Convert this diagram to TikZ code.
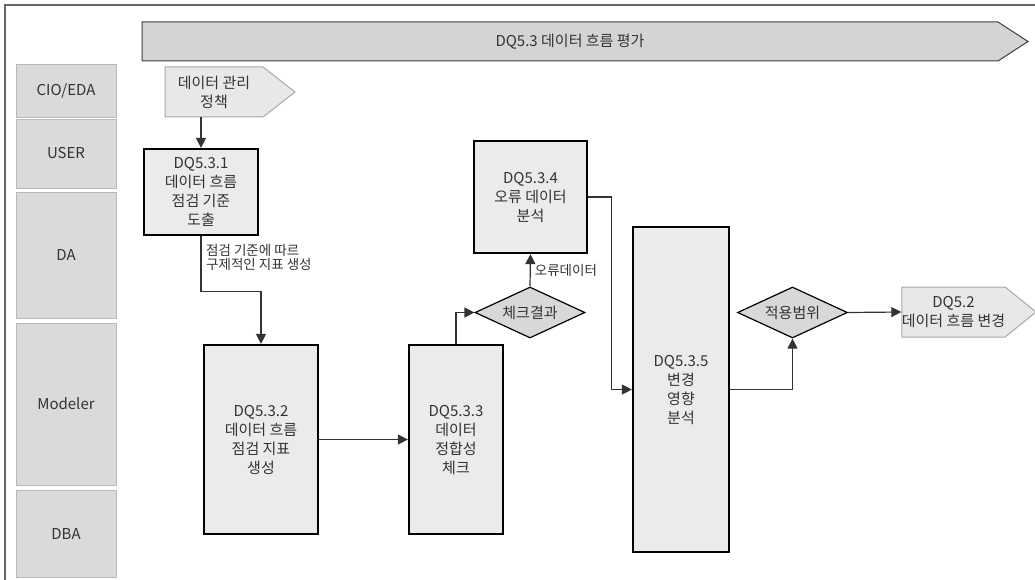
\documentclass[tikz,border=0pt]{standalone}
\usepackage{fontspec}
\setmainfont{Noto Sans CJK KR}
\usetikzlibrary{arrows.meta, positioning, shapes.geometric, shapes.symbols}
\definecolor{lanegray}{HTML}{D9DADC}
\definecolor{bargray}{HTML}{D3D4D6}
\definecolor{boxgray}{HTML}{EAEBEB}
\definecolor{diagray}{HTML}{D7D8DA}
\definecolor{pentgray}{HTML}{E7E8E9}
\definecolor{edgegray}{HTML}{A7A8AA}
\definecolor{inkgray}{HTML}{333333}

\begin{document}
\begin{tikzpicture}[
      x=1pt, y=-1pt,
      font=\fontsize{15}{19}\selectfont, text=inkgray,
      lane/.style={rectangle, fill=lanegray, draw=lanegray!85!black, line width=0.6pt,
                   minimum width=100pt, inner sep=0pt},
      task/.style={rectangle, fill=boxgray, draw=black, line width=2.2pt,
                   align=center, inner sep=0pt},
      dec/.style={diamond, aspect=2.1, fill=diagray, draw=black, line width=1.2pt,
                  inner sep=0pt, minimum width=110pt, minimum height=51pt},
      flag/.style={signal, signal to=east, fill=pentgray, draw=edgegray, line width=1pt,
                   align=center, inner sep=0pt},
      lbl/.style={font=\fontsize{13.5}{14}\selectfont, align=left, inner sep=1pt},
      ar/.style={-{Triangle[length=10pt,width=10pt]}, inkgray, line width=1.2pt},
    ]
    \useasboundingbox (0,0) rectangle (1035,580);

    % ---------------- frame
    \draw[black!60, line width=1.5pt] (5,580) -- (5,5) -- (1035,5);

    % ---------------- banner
    \node[signal, signal to=east, signal pointer angle=66, fill=bargray, draw=black!75,
          line width=1pt, minimum width=886pt, minimum height=39pt, inner sep=0pt]
          (bar) at (570,41.5) {DQ5.3 데이터 흐름 평가};

    % ---------------- lanes
    \node[lane, minimum height=53pt]  (cio)  at (66,90.5)  {CIO/EDA};
    \node[lane, minimum height=69pt]  (user) at (66,153.5) {USER};
    \node[lane, minimum height=126pt] (da)   at (66,255)   {DA};
    \node[lane, minimum height=162pt] (mod)  at (66,404)   {Modeler};
    \node[lane, minimum height=87pt]  (dba)  at (66,533.5) {DBA};

    % ---------------- tasks
    \node[flag, signal pointer angle=76, minimum width=130pt, minimum height=50pt]
          (policy) at (214,92) {데이터 관리\\정책};
    \node[task, minimum width=114pt, minimum height=86pt]  (t531) at (201,192)
          {DQ5.3.1\\데이터 흐름\\점검 기준\\도출};
    \node[task, minimum width=114pt, minimum height=189pt] (t532) at (261,439.5)
          {DQ5.3.2\\데이터 흐름\\점검 지표\\생성};
    \node[task, minimum width=94pt, minimum height=189pt]  (t533) at (456,439.5)
          {DQ5.3.3\\데이터\\정합성\\체크};
    \node[task, minimum width=113pt, minimum height=112pt] (t534) at (530.5,197)
          {DQ5.3.4\\오류 데이터\\분석};
    \node[task, minimum width=96pt, minimum height=325pt]  (t535) at (681,389.5)
          {DQ5.3.5\\변경\\영향\\분석};
    \node[dec] (chk) at (530,312.5) {체크결과};
    \node[dec] (scp) at (792.5,312.5) {적용범위};
    \node[flag, signal pointer angle=78, minimum width=129pt, minimum height=50pt]
          (chg) at (953.5,312) {DQ5.2\\데이터 흐름 변경};

    % ---------------- connectors
    \draw[ar] (policy.south -| t531.north) -- (t531.north);
    \draw[ar] (t531.south) -- ++(0,55) -| (t532.north);
    \node[lbl, anchor=north west] (crit) at (205,243) {점검 기준에 따르\\구제적인 지표 생성};
    \draw[ar] (t532.east) -- (t533.west);
    \draw[ar] (t533.north) |- (chk.west);
    \draw[ar] (chk.north) -- node[lbl, right=3pt] (err) {오류데이터} (t534.south);
    \draw[ar] (t534.east) -- ++(23,0) |- (t535.west);
    \draw[ar] (t535.east) -| (scp.south);
    \draw[ar] (scp.east) -- (chg.west);
\end{tikzpicture}
\end{document}
